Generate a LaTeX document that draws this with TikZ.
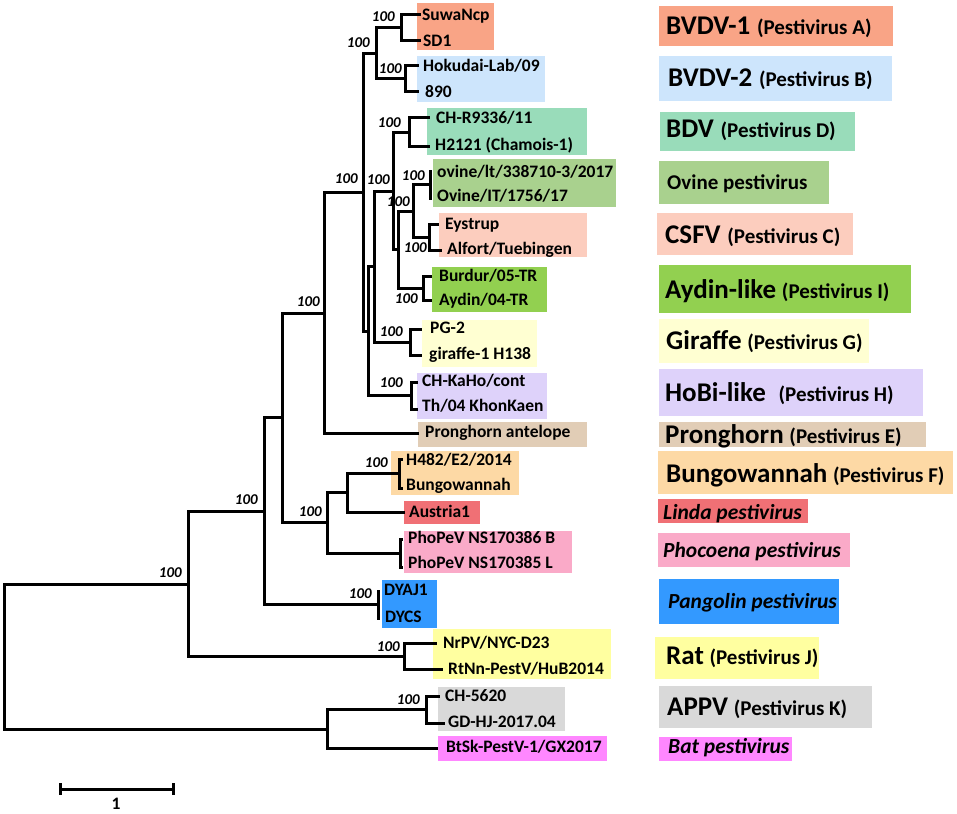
\documentclass[tikz,border=0pt]{standalone}
\usepackage{fontspec}
\setmainfont{Carlito}
\newcommand{\tipf}{\fontsize{17.5}{20}\selectfont\bfseries}
\newcommand{\bsf}{\fontsize{15}{18}\selectfont\bfseries\itshape}
\newcommand{\bigf}{\fontsize{27}{30}\selectfont\bfseries}
\newcommand{\smf}{\fontsize{21}{24}\selectfont\bfseries}
\newcommand{\itf}{\fontsize{21.5}{24}\selectfont\bfseries\itshape}
\definecolor{cA}{RGB}{249,164,134}
\definecolor{cB}{RGB}{205,229,252}
\definecolor{cD}{RGB}{153,220,186}
\definecolor{cOv}{RGB}{169,209,142}
\definecolor{cC}{RGB}{252,205,190}
\definecolor{cI}{RGB}{146,208,80}
\definecolor{cG}{RGB}{255,255,210}
\definecolor{cH}{RGB}{222,210,250}
\definecolor{cE}{RGB}{225,205,182}
\definecolor{cF}{RGB}{253,217,165}
\definecolor{cLi}{RGB}{240,112,117}
\definecolor{cPh}{RGB}{250,170,200}
\definecolor{cPa}{RGB}{51,153,255}
\definecolor{cJ}{RGB}{255,255,160}
\definecolor{cK}{RGB}{217,217,217}
\definecolor{cBat}{RGB}{255,135,255}
\begin{document}
\begin{tikzpicture}[x=1pt,y=-1pt,
  tree/.style={line width=3pt, line join=miter},
  bs/.style={anchor=east, inner sep=0pt, font=\bsf},
  tip/.style={anchor=base west, inner sep=0pt, font=\tipf, yshift=-5.6pt},
  clade/.style={anchor=base west, inner sep=0pt, font=\smf}]
\useasboundingbox (0,0) rectangle (957,813);
% tip boxes
\fill[cA] (417,3) rectangle (494,50);
\fill[cB] (417,56) rectangle (545,102);
\fill[cD] (427,108) rectangle (587,155);
\fill[cOv] (433,159) rectangle (616,207);
\fill[cC] (439,213) rectangle (587,257);
\fill[cI] (432,267) rectangle (547,312);
\fill[cG] (422,320) rectangle (537,367);
\fill[cH] (417,373) rectangle (547,419);
\fill[cE] (418,422) rectangle (587,447);
\fill[cF] (391,451) rectangle (519,495);
\fill[cLi] (404,501) rectangle (480,524);
\fill[cPh] (404,531) rectangle (572,573);
\fill[cPa] (382,580) rectangle (437,628);
\fill[cJ] (433,629) rectangle (611,679);
\fill[cK] (438,687) rectangle (565,731);
\fill[cBat] (438,736) rectangle (607,761);
% clade boxes
\fill[cA] (659,6) rectangle (893,46);
\fill[cB] (659,56) rectangle (892,101);
\fill[cD] (660,112) rectangle (855,151);
\fill[cOv] (659,161) rectangle (829,204);
\fill[cC] (657,213) rectangle (853,255);
\fill[cI] (659,265) rectangle (911,313);
\fill[cG] (659,319) rectangle (869,363);
\fill[cH] (659,369) rectangle (923,416);
\fill[cE] (659,422) rectangle (926,447);
\fill[cF] (658,451) rectangle (953,494);
\fill[cLi] (658,499) rectangle (808,523);
\fill[cPh] (658,533) rectangle (850,567);
\fill[cPa] (659,579) rectangle (839,624);
\fill[cJ] (655,637) rectangle (819,679);
\fill[cK] (659,686) rectangle (872,728);
\fill[cBat] (659,737) rectangle (792,761);
% internal nodes
\coordinate (root) at (4,656.5);
\coordinate (n188) at (188,584);
\coordinate (n264) at (264,511);
\coordinate (n282) at (282,417.5);
\coordinate (n324) at (324,313);
\coordinate (n363) at (363,192.5);
\coordinate (bvdv) at (376,54);
\coordinate (bv1) at (401,28);
\coordinate (bv2) at (405,79);
\coordinate (n368) at (368,331);
\coordinate (n374) at (374,266.5);
\coordinate (n393) at (393,191);
\coordinate (bdv) at (409,132.5);
\coordinate (n398) at (398,249.5);
\coordinate (n413) at (413,211);
\coordinate (ovn) at (430,184.5);
\coordinate (csfv) at (429,237);
\coordinate (aydn) at (423,288);
\coordinate (graf) at (410,342);
\coordinate (hobi) at (411,395.5);
\coordinate (n327) at (327,522);
\coordinate (n347) at (347,492.5);
\coordinate (bung) at (399,473.5);
\coordinate (phoc) at (400,553);
\coordinate (pang) at (378,604.5);
\coordinate (rat) at (404,656);
\coordinate (n327b) at (327,729);
\coordinate (appv) at (426,709.5);
% leaves
\coordinate (lsuwa) at (421,15);
\coordinate (lsd1) at (421,41);
\coordinate (lhoku) at (419,66);
\coordinate (l890) at (419,92);
\coordinate (lchr) at (430,118);
\coordinate (lh21) at (430,147);
\coordinate (lov1) at (432,171);
\coordinate (lov2) at (432,198);
\coordinate (leys) at (439,224);
\coordinate (lalf) at (442,250);
\coordinate (lbur) at (432,276);
\coordinate (layd) at (432,300);
\coordinate (lpg2) at (422,329);
\coordinate (lgir) at (422,355);
\coordinate (lkaho) at (418,382);
\coordinate (lth04) at (418,409);
\coordinate (lpron) at (419,433);
\coordinate (lh482) at (403,459);
\coordinate (lbung) at (403,488);
\coordinate (laus) at (405,512);
\coordinate (lpho1) at (403,539);
\coordinate (lpho2) at (403,567);
\coordinate (ldyaj) at (380,591);
\coordinate (ldycs) at (380,618);
\coordinate (lnrpv) at (437,643);
\coordinate (lrtnn) at (443,669);
\coordinate (lch56) at (440,696);
\coordinate (lgdhj) at (445,723);
\coordinate (lbtsk) at (438,748);
% branches
\foreach \p/\c in {root/n188,root/n327b,n188/n264,n188/rat,n264/n282,n264/pang,
  n282/n324,n282/n327,n324/n363,n324/lpron,n363/bvdv,n363/n368,bvdv/bv1,bvdv/bv2,
  bv1/lsuwa,bv1/lsd1,bv2/lhoku,bv2/l890,n368/n374,n368/hobi,n374/n393,n374/graf,
  n393/bdv,n393/n398,bdv/lchr,bdv/lh21,n398/n413,n398/aydn,n413/ovn,n413/csfv,
  ovn/lov1,ovn/lov2,csfv/leys,csfv/lalf,aydn/lbur,aydn/layd,graf/lpg2,graf/lgir,
  hobi/lkaho,hobi/lth04,n327/n347,n327/phoc,n347/bung,n347/laus,bung/lh482,bung/lbung,
  phoc/lpho1,phoc/lpho2,pang/ldyaj,pang/ldycs,rat/lnrpv,rat/lrtnn,n327b/appv,
  n327b/lbtsk,appv/lch56,appv/lgdhj}
  \draw[tree] (\p) |- (\c);
% bootstrap labels
\node[bs] (b01) at (395,17) {100};
\node[bs] (b02) at (370,43) {100};
\node[bs] (b03) at (402,69) {100};
\node[bs] (b04) at (401,123) {100};
\node[bs] (b05) at (425,176) {100};
\node[bs] (b06) at (358,179) {100};
\node[bs] (b07) at (390,180) {100};
\node[bs] (b08) at (410,202) {100};
\node[bs] (b09) at (427,248) {100};
\node[bs] (b10) at (418,299) {100};
\node[bs] (b11) at (320,302) {100};
\node[bs] (b12) at (403,332) {100};
\node[bs] (b13) at (403,383) {100};
\node[bs] (b14) at (388,463) {100};
\node[bs] (b15) at (322,512) {100};
\node[bs] (b16) at (258,500) {100};
\node[bs] (b17) at (182,573) {100};
\node[bs] (b18) at (372,594) {100};
\node[bs] (b19) at (400,647) {100};
\node[bs] (b20) at (420,700) {100};
% tip labels
\node[tip] (t01) at (422,15) {SuwaNcp};
\node[tip] (t02) at (423,41) {SD1};
\node[tip] (t03) at (423,66) {Hokudai-Lab/09};
\node[tip] (t04) at (425,92) {890};
\node[tip] (t05) at (436,118) {CH-R9336/11};
\node[tip] (t06) at (435,145) {H2121 (Chamois-1)};
\node[tip] (t07) at (437,172) {ovine/lt/338710-3/2017};
\node[tip] (t08) at (437,196) {Ovine/IT/1756/17};
\node[tip] (t09) at (445,224) {Eystrup};
\node[tip] (t10) at (447,249) {Alfort/Tuebingen};
\node[tip] (t11) at (439,276) {Burdur/05-TR};
\node[tip] (t12) at (439,300) {Aydin/04-TR};
\node[tip] (t13) at (430,328) {PG-2};
\node[tip] (t14) at (429,354) {giraffe-1 H138};
\node[tip] (t15) at (422,381) {CH-KaHo/cont};
\node[tip] (t16) at (422,406) {Th/04 KhonKaen};
\node[tip] (t17) at (425,432) {Pronghorn antelope};
\node[tip] (t18) at (406,460) {H482/E2/2014};
\node[tip] (t19) at (406,485) {Bungowannah};
\node[tip] (t20) at (409,512) {Austria1};
\node[tip] (t21) at (408,538) {PhoPeV NS170386 B};
\node[tip] (t22) at (408,563) {PhoPeV NS170385 L};
\node[tip] (t23) at (384,590) {DYAJ1};
\node[tip] (t24) at (385,617) {DYCS};
\node[tip] (t25) at (443,643) {NrPV/NYC-D23};
\node[tip] (t26) at (448,669) {RtNn-PestV/HuB2014};
\node[tip] (t27) at (445,696) {CH-5620};
\node[tip] (t28) at (448,722) {GD-HJ-2017.04};
\node[tip] (t29) at (446,747) {BtSk-PestV-1/GX2017};
% clade labels
\node[clade] (c01) at (666,35) {{\bigf BVDV-1}\hspace{2pt} (Pestivirus A)};
\node[clade] (c02) at (668,87) {{\bigf BVDV-2}\hspace{2pt} (Pestivirus B)};
\node[clade] (c03) at (666,138) {{\bigf BDV}\hspace{2pt} (Pestivirus D)};
\node[clade] (c04) at (667,189) {Ovine pestivirus};
\node[clade] (c05) at (665,243) {{\bigf CSFV}\hspace{2pt} (Pestivirus C)};
\node[clade] (c06) at (665,298) {{\bigf Aydin-like}\hspace{1pt} (Pestivirus I)};
\node[clade] (c07) at (666,349) {{\bigf Giraffe}\hspace{1pt} (Pestivirus G)};
\node[clade] (c08) at (665,401) {{\bigf HoBi-like}\hspace{8pt} (Pestivirus H)};
\node[clade] (c09) at (665,443) {{\bigf Pronghorn}\hspace{1pt} (Pestivirus E)};
\node[clade] (c10) at (666,482) {{\bigf Bungowannah}\hspace{1pt} (Pestivirus F)};
\node[clade,font=\itf] (c11) at (663,519) {Linda pestivirus};
\node[clade,font=\itf] (c12) at (663,557) {Phocoena pestivirus};
\node[clade,font=\itf] (c13) at (668,608) {Pangolin pestivirus};
\node[clade] (c14) at (666,664) {{\bigf Rat}\hspace{1pt} (Pestivirus J)};
\node[clade] (c15) at (667,715) {{\bigf APPV}\hspace{1pt} (Pestivirus K)};
\node[clade,font=\itf] (c16) at (668,753) {Bat pestivirus};
% scale bar
\coordinate (sb1) at (60,789);
\coordinate (sb2) at (173,789);
\draw[tree] (sb1) -- (sb2);
\draw[tree] ([yshift=6pt]sb1) -- ([yshift=-6pt]sb1);
\draw[tree] ([yshift=6pt]sb2) -- ([yshift=-6pt]sb2);
\node[inner sep=0pt, font=\tipf] (sbl) at (116,804) {1};
\end{tikzpicture}
\end{document}
